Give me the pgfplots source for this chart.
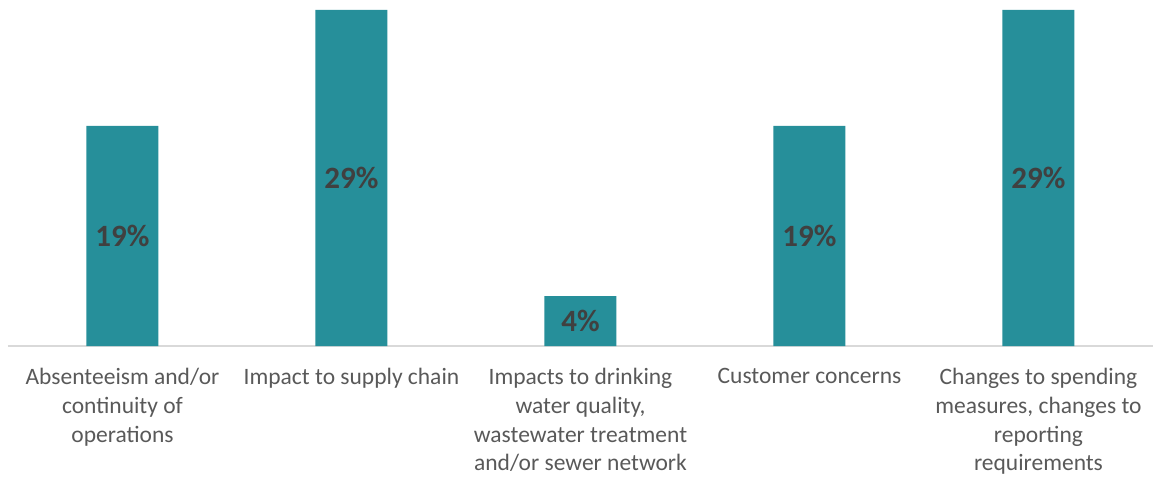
\documentclass[border=0pt]{standalone}
\usepackage{pgfplots}
\pgfplotsset{compat=1.18}
\usepackage{fontspec}
\setmainfont{Carlito}
\definecolor{barc}{RGB}{38,143,154}
\definecolor{lbl}{RGB}{89,89,89}
\definecolor{val}{RGB}{64,64,64}
\definecolor{axl}{RGB}{217,217,217}
\begin{document}
\begin{tikzpicture}
\useasboundingbox (0,0) rectangle (1153pt,477pt);
\begin{axis}[
  at={(8pt,131pt)}, anchor=south west,
  scale only axis, width=1145pt, height=346pt,
  xmin=-0.5, xmax=4.5, ymin=0, ymax=29.863,
  axis x line*=bottom, hide y axis,
  axis line style={axl, line width=1.5pt, -},
  xtick={0,1,2,3,4}, major tick length=0pt,
  xticklabels={{Absenteeism and/or\\continuity of\\operations},
               {Impact to supply chain},
               {Impacts to drinking\\water quality,\\wastewater treatment\\and/or sewer network},
               {Customer concerns},
               {Changes to spending\\measures, changes to\\reporting\\requirements}},
  xticklabel style={align=center, font=\fontsize{23.5}{28.7}\selectfont, text=lbl, anchor=north, yshift=-19pt},
  clip=false,
]
\addplot[ybar, bar width=72pt, fill=barc, draw=none] coordinates {(0,19) (1,29) (2,4.3) (3,19) (4,29)};
\addplot[draw=none, mark=none, nodes near coords, point meta=explicit symbolic,
  every node near coord/.style={anchor=center, font=\bfseries\fontsize{31}{37}\selectfont, text=val}]
  coordinates {(0,9.5)[19\%] (1,14.5)[29\%] (2,2.15)[4\%] (3,9.5)[19\%] (4,14.5)[29\%]};
\end{axis}
\end{tikzpicture}
\end{document}
